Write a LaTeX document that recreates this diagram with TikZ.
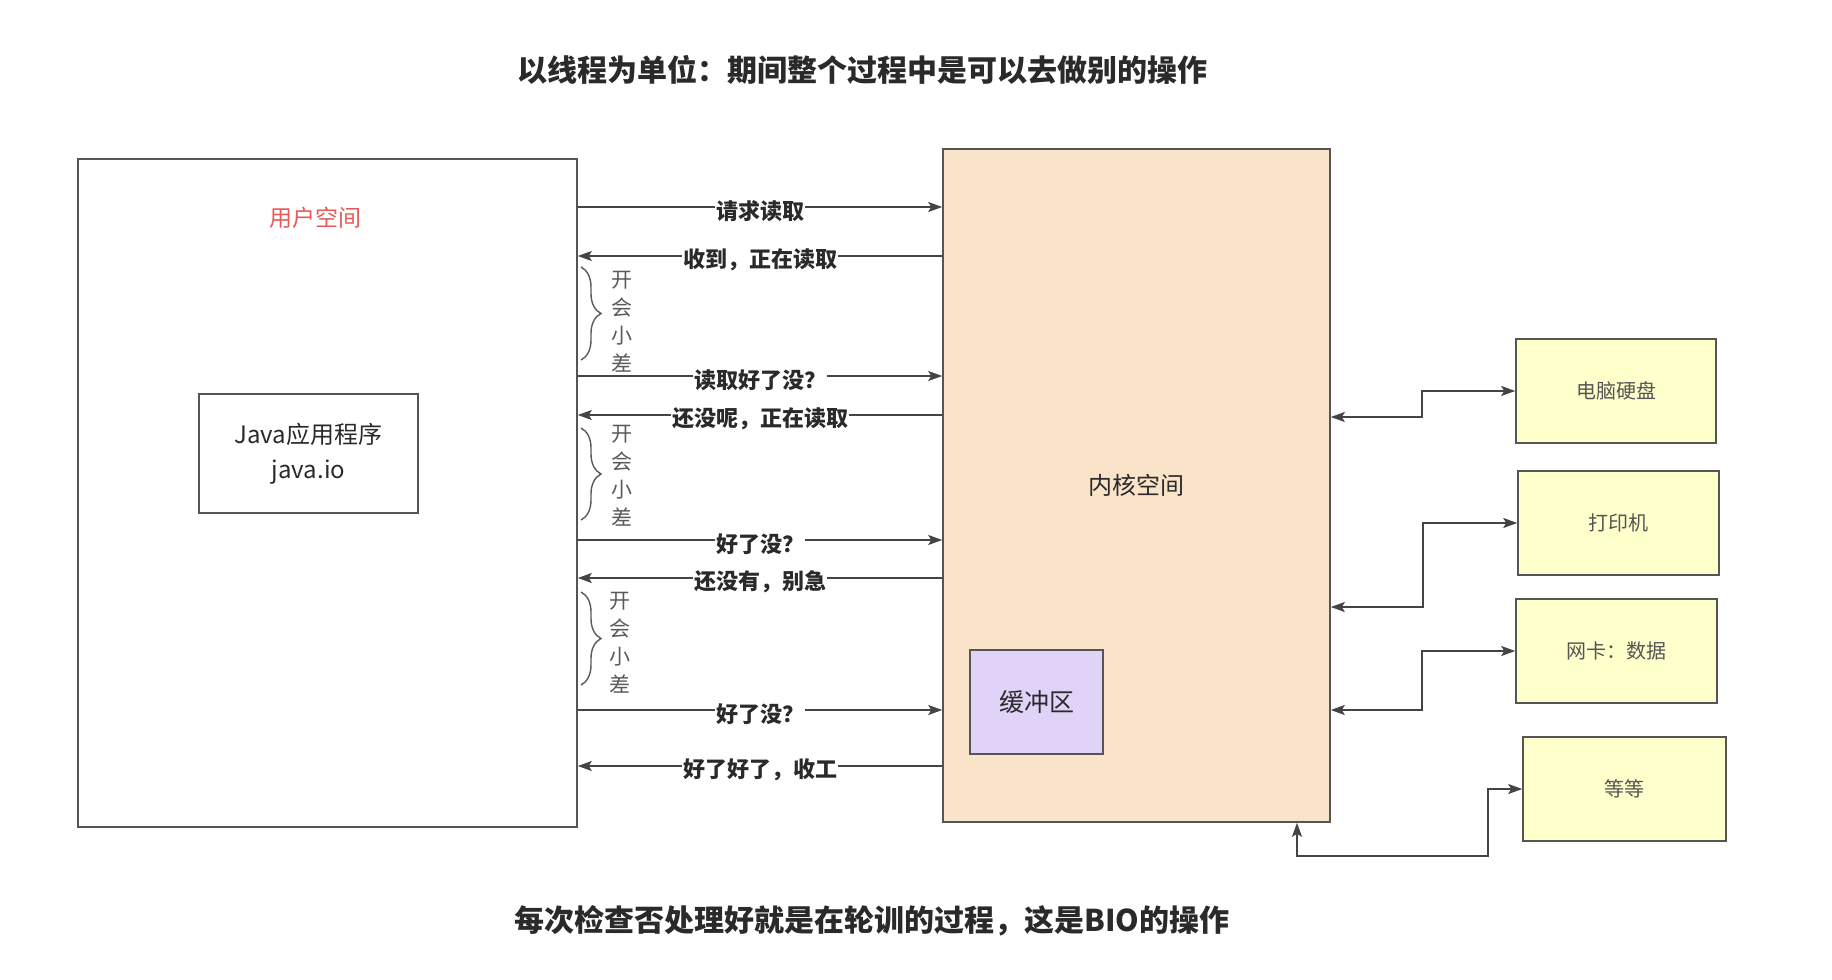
\documentclass[tikz,border=0pt]{standalone}
\usepackage{fontspec}
\setmainfont{Noto Sans CJK SC}
\usetikzlibrary{arrows.meta,decorations.pathreplacing}
\definecolor{linec}{HTML}{444444}
\definecolor{boxc}{HTML}{555555}
\definecolor{kernfill}{HTML}{F9E4CA}
\definecolor{buffill}{HTML}{E1D2F8}
\definecolor{devfill}{HTML}{FFFFCC}
\definecolor{usrred}{HTML}{E65A5A}
\definecolor{txtc}{HTML}{2A2A2A}
\definecolor{greyt}{HTML}{5A5A5A}
\tikzset{
  boxn/.style={draw=boxc, line width=1.6pt, inner sep=0pt},
  devbox/.style={boxn, fill=devfill, font=\fontsize{20}{24}\selectfont, text=boxc},
  arr/.style={draw=linec, line width=1.7pt, -{Stealth[length=14pt,width=10pt,inset=3pt]}},
  darr/.style={draw=linec, line width=1.7pt, {Stealth[length=14pt,width=10pt,inset=3pt]}-{Stealth[length=14pt,width=10pt,inset=3pt]}},
  lbl/.style={fill=white, inner sep=1pt, font=\fontsize{22}{26}\selectfont\bfseries, text=txtc, yshift=-4pt},
  bracec/.style={draw=greyt, line width=1.4pt, decorate, decoration={brace, amplitude=20pt, aspect=0.5}},
  vtext/.style={align=center, font=\fontsize{21}{28}\selectfont, text=greyt},
  ttl/.style={font=\fontsize{30}{34}\selectfont\bfseries, text=txtc}
}
\begin{document}
\begin{tikzpicture}[x=1pt,y=-1pt]
\useasboundingbox[fill=white] (0,0) rectangle (1832,980);

\node[ttl] (title) at (862,70) {以线程为单位：期间整个过程中是可以去做别的操作};
\node[ttl] (foot) at (872,921) {每次检查否处理好就是在轮训的过程，这是BIO的操作};

% user space
\node[boxn, fill=white, minimum width=499pt, minimum height=668pt] (user) at (327.5,493) {};
\node[font=\fontsize{23}{26}\selectfont, text=usrred] (userlbl) at (315,218) {用户空间};
\node[boxn, fill=white, minimum width=219pt, minimum height=119pt, align=center,
      font=\fontsize{24}{35}\selectfont, text=txtc] (java) at (308.5,453.5) {Java应用程序\\java.io};

% kernel space
\node[boxn, fill=kernfill, minimum width=387pt, minimum height=673pt] (kernel) at (1136.5,485.5) {};
\node[font=\fontsize{24}{28}\selectfont, text=txtc] (kernlbl) at (1136,485) {内核空间};
\node[boxn, fill=buffill, minimum width=133pt, minimum height=104pt,
      font=\fontsize{25}{28}\selectfont, text=txtc] (buf) at (1036.5,702) {缓冲区};

% devices
\node[devbox, minimum width=200pt, minimum height=104pt] (disk) at (1616,391) {电脑硬盘};
\node[devbox, minimum width=201pt, minimum height=104pt] (printer) at (1618.5,523) {打印机};
\node[devbox, minimum width=201pt, minimum height=104pt] (nic) at (1616.5,651) {网卡：数据};
\node[devbox, minimum width=203pt, minimum height=104pt] (etc) at (1624.5,789) {等等};

% request / response arrows
\draw[arr] (user.east |- 0,207) -- (kernel.west |- 0,207) node[midway, lbl] {请求读取};
\draw[arr] (kernel.west |- 0,256) -- (user.east |- 0,256) node[midway, lbl] {收到，正在读取};
\draw[arr] (user.east |- 0,376) -- (kernel.west |- 0,376) node[midway, lbl] {读取好了没？};
\draw[arr] (kernel.west |- 0,415) -- (user.east |- 0,415) node[midway, lbl] {还没呢，正在读取};
\draw[arr] (user.east |- 0,540) -- (kernel.west |- 0,540) node[midway, lbl] {好了没？};
\draw[arr] (kernel.west |- 0,578) -- (user.east |- 0,578) node[midway, lbl] {还没有，别急};
\draw[arr] (user.east |- 0,710) -- (kernel.west |- 0,710) node[midway, lbl] {好了没？};
\draw[arr] (kernel.west |- 0,766) -- (user.east |- 0,766) node[midway, lbl] {好了好了，收工};

% braces
\coordinate (b1t) at (581,267); \coordinate (b1b) at (581,360);
\coordinate (b2t) at (581,428); \coordinate (b2b) at (581,520);
\coordinate (b3t) at (581,592); \coordinate (b3b) at (581,685);
\draw[bracec] (b1t) -- (b1b);
\draw[bracec] (b2t) -- (b2b);
\draw[bracec] (b3t) -- (b3b);
\node[vtext] (v1) at (622,322) {开\\会\\小\\差};
\node[vtext] (v2) at (622,476) {开\\会\\小\\差};
\node[vtext] (v3) at (620,643) {开\\会\\小\\差};

% device connectors
\draw[darr] (kernel.east |- 0,417) -- (1422,417) -- (1422,391) -- (disk.west);
\draw[darr] (kernel.east |- 0,607) -- (1423,607) -- (1423,523) -- (printer.west);
\draw[darr] (kernel.east |- 0,710) -- (1422,710) -- (1422,651) -- (nic.west);
\draw[darr] (kernel.south -| 1297,0) -- (1297,856) -- (1488,856) -- (1488,789) -- (etc.west);
\end{tikzpicture}
\end{document}
